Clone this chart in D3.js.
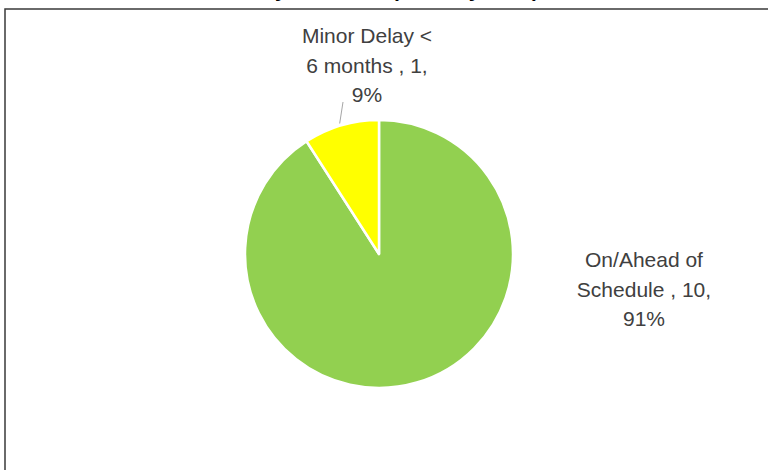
<!DOCTYPE html>
<html>
<head>
<meta charset="utf-8">
<script src="https://cdn.jsdelivr.net/npm/d3@7"></script>
<style>
  body { margin: 0; background: #fff; }
  svg { display: block; }
</style>
</head>
<body>
<div id="chart"></div>
<script>
var width = 768, height = 470;

// data
var categories = ["On/Ahead of Schedule ", "Minor Delay < 6 months "];
var values = [10, 1];
var colours = ["#92D050", "#FFFF00"];

var cx = 379, cy = 254, radius = 134;

var svg = d3.select("#chart").append("svg")
    .attr("width", width)
    .attr("height", height);

// title sits above the picture, only the descenders show
svg.append("text")
    .attr("x", 372)
    .attr("y", -3)
    .attr("text-anchor", "middle")
    .style("font", "bold 21px 'Liberation Sans', Arial, sans-serif")
    .style("fill", "#000")
    .text("Delivery Schedule (Delivery Date)");

// chart frame
svg.append("rect")
    .attr("x", 5)
    .attr("y", 9)
    .attr("width", 800)
    .attr("height", 500)
    .attr("fill", "none")
    .attr("stroke", "#3a3a3a")
    .attr("stroke-width", 1.5);

var total = d3.sum(values);
var pie = d3.pie().sort(null).value(function(d) { return d; });
var arc = d3.arc().innerRadius(0).outerRadius(radius);

var g = svg.append("g")
    .attr("transform", "translate(" + cx + "," + cy + ")");

var arcs = pie(values);

g.selectAll("path.slice")
    .data(arcs)
    .enter().append("path")
    .attr("class", "slice")
    .attr("d", arc)
    .attr("fill", function(d, i) { return colours[i]; })
    .attr("stroke", "#fff")
    .attr("stroke-width", 2.5)
    .attr("stroke-linejoin", "round");

// label lines, split the way the picture wraps them
function labelLines(i) {
    var pct = Math.round(values[i] / total * 100) + "%";
    if (i == 0) return ["On/Ahead of", "Schedule , " + values[i] + ",", pct];
    return ["Minor Delay <", "6 months , " + values[i] + ",", pct];
}

// label anchor offsets from the centre (centre x of block, first baseline)
var labelPos = [[265, 13], [-12, -211]];

labelPos.forEach(function(p, i) {
    var t = g.append("text")
        .attr("text-anchor", "middle")
        .style("font", "21px 'Liberation Sans', Arial, sans-serif")
        .style("fill", "#404040");
    labelLines(i).forEach(function(line, j) {
        t.append("tspan")
            .attr("x", p[0])
            .attr("y", p[1] + j * 29.5)
            .text(line);
    });
});

// leader line for the small slice
var edge = d3.arc().innerRadius(radius + 2).outerRadius(radius + 2).centroid(arcs[1]);
g.append("line")
    .attr("x1", edge[0] - 1)
    .attr("y1", edge[1])
    .attr("x2", -36)
    .attr("y2", -152)
    .attr("stroke", "#a6a6a6")
    .attr("stroke-width", 1);
</script>
</body>
</html>
